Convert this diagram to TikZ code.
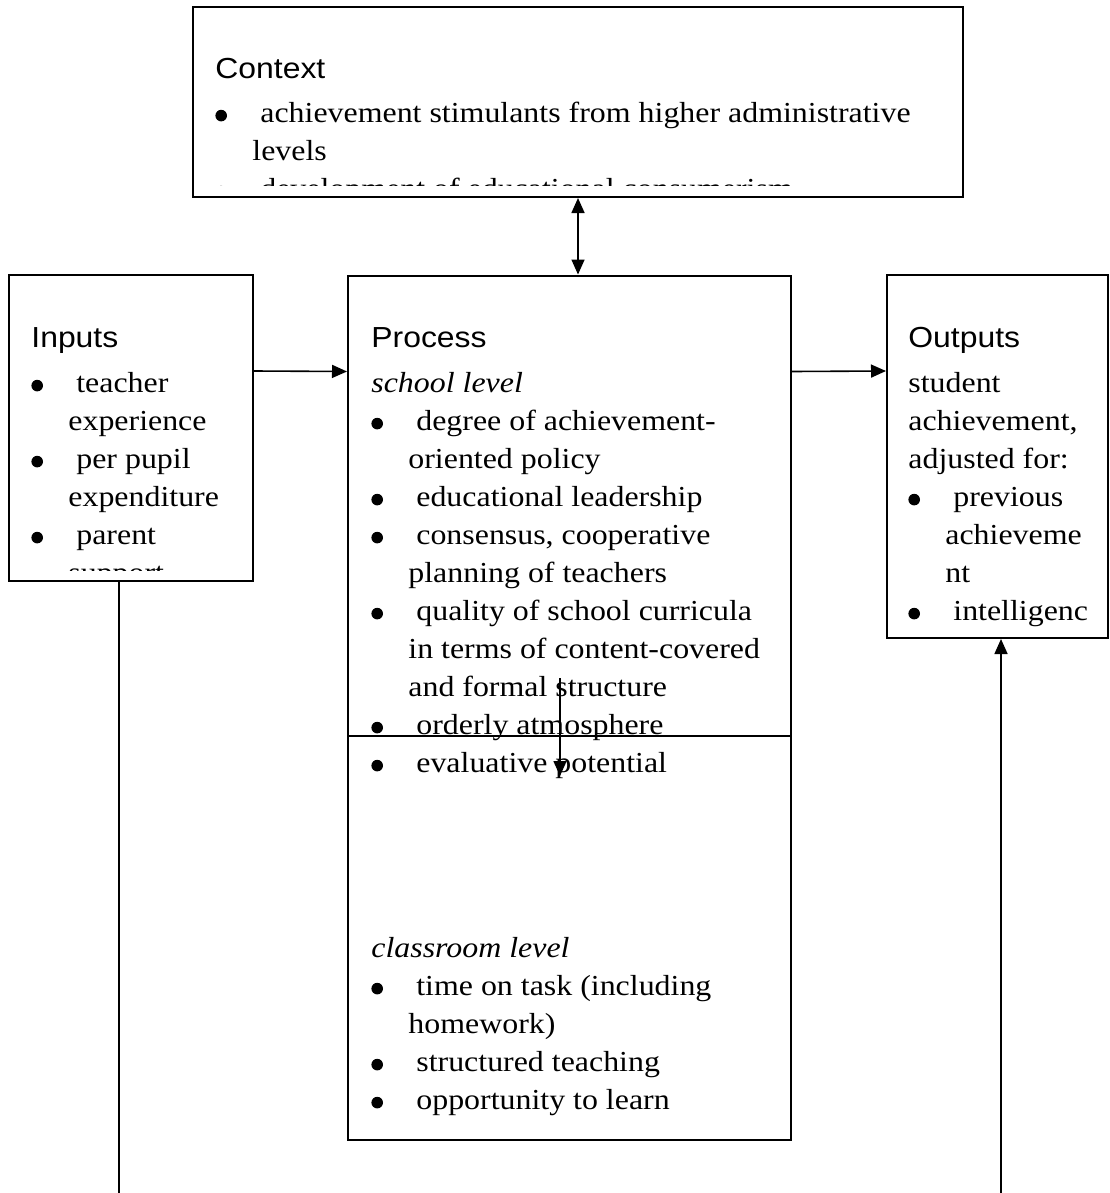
\documentclass[tikz,border=0pt]{standalone}
\usepackage{fontspec}
\setmainfont{Liberation Serif}[FakeStretch=1.1]
\setsansfont{Liberation Sans}[FakeStretch=1.1]
\usepackage{tikz}
\usetikzlibrary{arrows.meta}

\newcommand{\hd}[1]{\textsf{#1}}
\newcommand{\bl}{\makebox[18.5pt][l]{\tikz[baseline=0pt]\fill (2.9pt,3.4pt) circle (2.9pt);}\ }
\newcommand{\hg}{\hspace*{18.5pt}}

\begin{document}
\begin{tikzpicture}[x=0.5pt, y=-0.5pt,
            box/.style ={rectangle, draw=black, line width=1pt, inner sep=0pt},
            txt/.style ={anchor=north west, inner sep=0pt, align=left,
                         font=\fontsize{14.5pt}{19pt}\selectfont},
            line/.style={line width=0.8pt},
            arr/.style ={-{Triangle[length=7.5pt, width=6.5pt]}, line width=0.8pt},
            dbl/.style ={{Triangle[length=7.5pt, width=6.5pt]}-{Triangle[length=7.5pt, width=6.5pt]}, line width=0.8pt}
        ]
            \useasboundingbox (0,0) rectangle (1109,1193);

            \node[box, minimum width=385pt,   minimum height=95pt]    (context) at (578,102)    {};
            \node[box, minimum width=122pt,   minimum height=153pt]   (inputs)  at (131,428)    {};
            \node[box, minimum width=221.5pt, minimum height=432pt]   (process) at (569.5,707.5) {};
            \node[box, minimum width=110.5pt, minimum height=181.5pt] (outputs) at (997.5,456.5) {};

            \begin{scope}
                \clip (193,7) rectangle (963,185);
                \node[txt] (contexttext) at (215,51.4) {\strut\hd{Context}\\[3pt]
                    \bl achievement stimulants from higher administrative\\
                    \hg levels\\
                    \bl development of educational consumerism};
            \end{scope}

            \begin{scope}
                \clip (9,275) rectangle (253,570);
                \node[txt] (inputstext) at (31,320.4) {\strut\hd{Inputs}\\[3.5pt]
                    \bl teacher\\ \hg experience\\
                    \bl per pupil\\ \hg expenditure\\
                    \bl parent\\ \hg support};
            \end{scope}

            \node[txt] (schooltext) at (371,320.4) {\strut\hd{Process}\\[3.5pt]
                \textit{school level}\\
                \bl degree of achievement-\\ \hg oriented policy\\
                \bl educational leadership\\
                \bl consensus, cooperative\\ \hg planning of teachers\\
                \bl quality of school curricula\\ \hg in terms of content-covered\\ \hg and formal structure\\
                \bl orderly atmosphere\\
                \bl evaluative potential};

            \node[txt] (classtext) at (371,930.4) {\strut\textit{classroom level}\\
                \bl time on task (including\\ \hg homework)\\
                \bl structured teaching\\
                \bl opportunity to learn};

            \node[txt] (outputstext) at (908,320.4) {\strut\hd{Outputs}\\[3.5pt]
                student\\ achievement,\\ adjusted for:\\
                \bl previous\\ \hg achieveme\\ \hg nt\\
                \bl intelligenc};

            \coordinate (divider)  at (569.5,736);
            \coordinate (dtop)     at (560,678);
            \coordinate (dbot)     at (560,776);
            \coordinate (leftend)  at (119,1193);
            \coordinate (rightend) at (1001,1193);

            \draw[line] (divider -| process.west) -- (divider -| process.east);
            \draw[arr]  (dtop) -- (dbot);

            \draw[dbl] (context.south) -- (context.south |- process.north);
            \draw[arr] ([yshift=-48.5pt]inputs.north east) -- ([yshift=-48.5pt]process.north west);
            \draw[arr] ([yshift=-48.5pt]process.north east) -- ([yshift=-48.5pt]outputs.north west);

            \draw[line] (leftend |- inputs.south) -- (leftend);
            \draw[arr]  (rightend) -- (rightend |- outputs.south);

        \end{tikzpicture}
\end{document}
